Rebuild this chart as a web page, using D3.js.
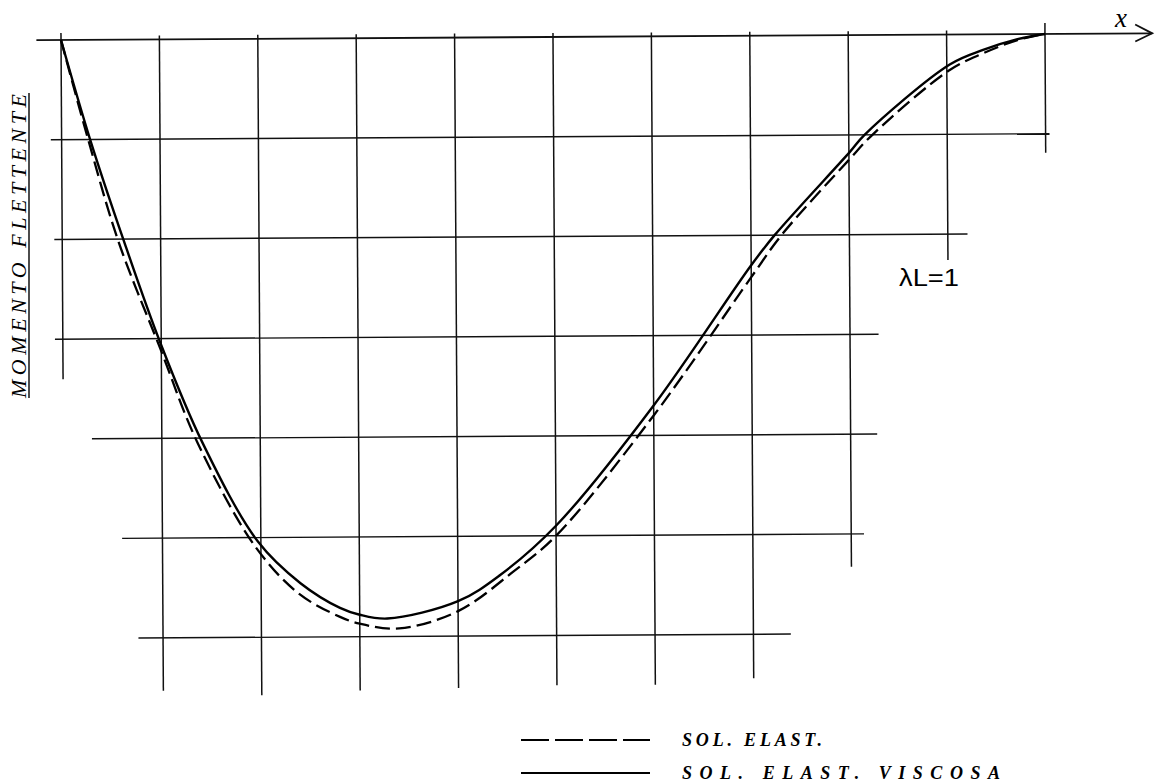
<!DOCTYPE html>
<html>
<head>
<meta charset="utf-8">
<script src="https://cdn.jsdelivr.net/npm/d3@7"></script>
<style>
  html, body { margin: 0; padding: 0; background: #fff; }
  svg { display: block; }
</style>
</head>
<body>
<svg id="chart" width="1158" height="782"></svg>
<script>
// ---- Data (grid units: abscissa 0..10, bending moment 0..-6) ----
const xGrid = [0, 1, 2, 3, 4, 5, 6, 7, 8, 9, 10];
const yGrid = [0, -1, -2, -3, -4, -5, -6];
// staircase extent of each horizontal grid line (abscissa from, to)
const rowFrom = [-0.25, -0.11, -0.08, -0.08, 0.29, 0.59, 0.75];
const rowTo   = [11.09, 10.04, 9.2, 8.29, 8.27, 8.13, 7.38];
// extent of each vertical grid line (moment from, to)
const colFrom = [0.07, 0.04, 0.04, 0.04, 0.04, 0.04, 0.04, 0.04, 0.04, 0.04, 0.11];
const colTo   = [-3.40, -6.53, -6.58, -6.54, -6.52, -6.5, -6.5, -6.44, -5.33, -2.26, -1.19];

// SOL. ELAST. VISCOSA (solid)
const viscX = [0, 0.29, 0.62, 0.99, 1.41, 1.97, 2.40, 2.80, 3.0, 3.28, 4.0, 4.43, 5.0, 6.0, 7.0, 7.24, 8.01, 8.16, 9.03, 9.37, 9.72, 10];
const viscM = [0, -1.0, -2.0, -3.04, -4.04, -5.04, -5.46, -5.71, -5.78, -5.82, -5.65, -5.39, -4.9, -3.7, -2.3, -2.0, -1.17, -1.0, -0.30, -0.156, -0.05, 0];
// SOL. ELAST. (dashed)
const elasX = [0, 0.27, 0.57, 0.99, 1.36, 1.95, 2.39, 2.80, 3.0, 3.4, 4.0, 4.56, 5.0, 6.0, 7.0, 7.31, 8.0, 8.24, 9.03, 9.37, 9.72, 10];
const elasM = [0, -1.0, -2.02, -3.1, -4.04, -5.10, -5.57, -5.80, -5.87, -5.92, -5.75, -5.36, -5.0, -3.8, -2.42, -2.0, -1.25, -1.0, -0.355, -0.19, -0.06, 0];

const legendLabels = ["SOL. ELAST.", "SOL. ELAST. VISCOSA"];
const yAxisLabel = "MOMENTO FLETTENTE";
const xAxisLabel = "x";
const paramLabel = "λL=1";

// ---- Drawing ----
const svg = d3.select("#chart");
const x = d3.scaleLinear().domain([0, 10]).range([61, 1045]);
const y = d3.scaleLinear().domain([0, -6]).range([40, 638.5]);

const g = svg.append("g").attr("transform", "rotate(-0.35, 61, 40)");

const ink = "#111";

// horizontal grid lines
g.selectAll("line.row").data(yGrid).enter().append("line")
  .attr("class", "row")
  .attr("x1", (d, i) => x(rowFrom[i])).attr("x2", (d, i) => x(rowTo[i]))
  .attr("y1", d => y(d)).attr("y2", d => y(d))
  .attr("stroke", ink).attr("stroke-width", (d, i) => i === 0 ? 1.8 : 1.4);

// vertical grid lines
g.selectAll("line.col").data(xGrid).enter().append("line")
  .attr("class", "col")
  .attr("x1", d => x(d)).attr("x2", d => x(d))
  .attr("y1", (d, i) => y(colFrom[i])).attr("y2", (d, i) => y(colTo[i]))
  .attr("stroke", ink).attr("stroke-width", 1.5);

// arrow head at the end of the x axis
const tip = rowTo[0];
g.append("path")
  .attr("d", `M${x(tip) - 17},${y(0) - 9} L${x(tip)},${y(0)} L${x(tip) - 17},${y(0) + 8}`)
  .attr("fill", "none").attr("stroke", ink).attr("stroke-width", 1.8);

const line = d3.line().x(d => x(d[0])).y(d => y(d[1])).curve(d3.curveCatmullRom.alpha(0.5));

g.append("path")
  .datum(elasX.map((v, i) => [v, elasM[i]]))
  .attr("d", line)
  .attr("fill", "none").attr("stroke", "#000").attr("stroke-width", 2.3)
  .attr("stroke-dasharray", "15,6");

g.append("path")
  .datum(viscX.map((v, i) => [v, viscM[i]]))
  .attr("d", line)
  .attr("fill", "none").attr("stroke", "#000").attr("stroke-width", 2.4);

// axis labels
svg.append("text")
  .attr("x", 1115).attr("y", 27)
  .attr("font-family", "Liberation Serif, serif").attr("font-style", "italic")
  .attr("font-size", 27).attr("fill", "#000")
  .text(xAxisLabel);

const yl = svg.append("g").attr("transform", "translate(26,398) rotate(-90)");
yl.append("text")
  .attr("x", 0).attr("y", 0)
  .attr("font-family", "Liberation Serif, serif").attr("font-style", "italic")
  .attr("font-size", 22).attr("fill", "#000")
  .attr("textLength", 304).attr("lengthAdjust", "spacing")
  .text(yAxisLabel);
yl.append("line").attr("x1", 0).attr("x2", 305).attr("y1", 3).attr("y2", 3)
  .attr("stroke", "#000").attr("stroke-width", 1.4);

svg.append("text")
  .attr("x", 899).attr("y", 286)
  .attr("font-family", "Liberation Sans, sans-serif")
  .attr("font-size", 24).attr("fill", "#000")
  .attr("textLength", 60).attr("lengthAdjust", "spacingAndGlyphs")
  .text(paramLabel);

// legend
const legY = [746, 779];
const legDash = ["28,6", null];
legendLabels.forEach((lab, i) => {
  svg.append("line")
    .attr("x1", 521).attr("x2", 650).attr("y1", legY[i] - 6).attr("y2", legY[i] - 6)
    .attr("stroke", "#000").attr("stroke-width", 1.9)
    .attr("stroke-dasharray", legDash[i]);
  svg.append("text")
    .attr("x", 682).attr("y", legY[i])
    .attr("font-family", "Liberation Serif, serif").attr("font-style", "italic")
    .attr("font-weight", "bold")
    .attr("font-size", 18).attr("fill", "#000")
    .attr("textLength", i === 0 ? 140 : 318).attr("lengthAdjust", "spacing")
    .text(lab);
});
</script>
</body>
</html>
